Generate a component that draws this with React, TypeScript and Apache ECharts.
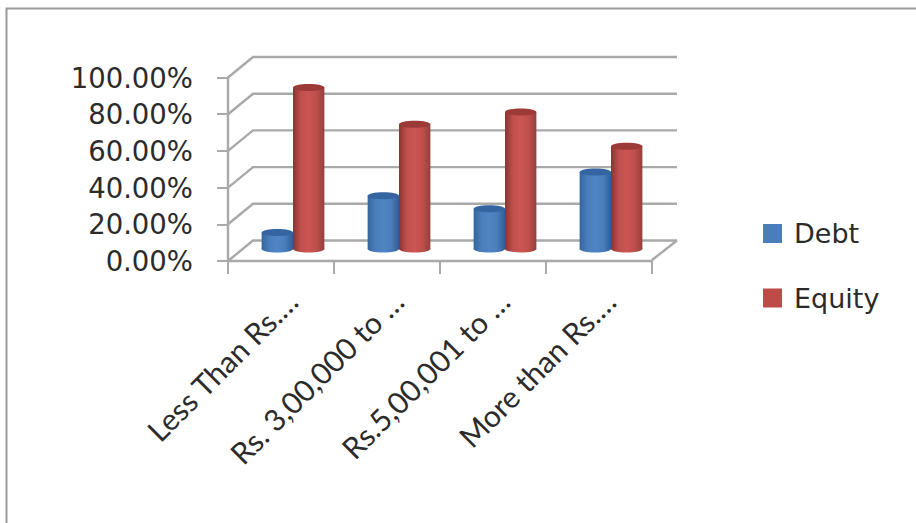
import React, { useEffect, useRef } from "react";
import * as echarts from "echarts";

const categories = ["Less Than Rs.…", "Rs. 3,00,000 to …", "Rs.5,00,001 to …", "More than Rs.…"];
const debtValues = [9, 29, 22, 42];
const equityValues = [88, 68, 74.7, 56];
const yTicks = [0, 20, 40, 60, 80, 100];

const WIDTH = 916;
const HEIGHT = 523;
// Projection of the back wall and of the bar row relative to the front plane.
const WALL_DX = 25;
const WALL_DY = -20.5;
const ROW_DX = 12;
const ROW_DY = -12;
const GRID_COLOR = "#a9a9a9";
const TEXT_COLOR = "#2b2b2b";

const hGradient = (stops: string[]) => ({
  type: "linear",
  x: 0,
  y: 0,
  x2: 1,
  y2: 0,
  colorStops: stops.map((color, i) => ({ offset: i / (stops.length - 1), color })),
});

const wallLines = (params: any, api: any) => {
  const p = api.coord([0, api.value(1)]);
  const left = params.coordSys.x;
  const right = left + params.coordSys.width;
  const y = p[1];
  const style = { stroke: GRID_COLOR, lineWidth: 2.4, fill: "none" };
  const children: any[] = [
    {
      type: "polyline",
      shape: {
        points: [
          [left, y],
          [left + WALL_DX, y + WALL_DY],
          [right + WALL_DX, y + WALL_DY],
        ],
      },
      style,
    },
  ];
  if (api.value(1) === 0) {
    children.push({
      type: "line",
      shape: { x1: right, y1: y - 1, x2: right + WALL_DX, y2: y + WALL_DY },
      style,
    });
  }
  return { type: "group", children };
};

const cylinder = (side: number, stops: string[], capColor: string) => (params: any, api: any) => {
  const category = api.value(0);
  const top = api.coord([category, api.value(1)]);
  const base = api.coord([category, 0]);
  const bandWidth = api.size([1, 0])[0];
  const rx = bandWidth * 0.148;
  const cx = top[0] + ROW_DX + side * rx;
  const ry = 3.5;
  const yTop = top[1] + ROW_DY;
  const yBase = base[1] + ROW_DY;
  const fill = hGradient(stops);
  return {
    type: "group",
    children: [
      { type: "ellipse", shape: { cx, cy: yBase, rx, ry }, style: { fill } },
      { type: "rect", shape: { x: cx - rx, y: yTop, width: rx * 2, height: yBase - yTop }, style: { fill } },
      { type: "ellipse", shape: { cx, cy: yTop, rx, ry }, style: { fill: capColor } },
    ],
  };
};

const DEBT_STOPS = ["#34659f", "#4a7ebb", "#4f85c5", "#4a7dba", "#2f5d96"];
const EQUITY_STOPS = ["#8a3331", "#c0504d", "#cb5552", "#bf4f4c", "#93403d"];

export default function App() {
  const ref = useRef<HTMLDivElement>(null);

  useEffect(() => {
    const chart = echarts.init(ref.current!, undefined, { renderer: "svg" });
    chart.setOption({
      animation: false,
      backgroundColor: "#ffffff",
      grid: { left: 228, right: WIDTH - 652, top: 77.5, bottom: HEIGHT - 261 },
      graphic: [
        {
          type: "rect",
          silent: true,
          z: -1,
          shape: { x: 6.5, y: 8.5, width: 940, height: 540 },
          style: { fill: "none", stroke: "#9a9a9a", lineWidth: 2 },
        },
      ],
      legend: {
        data: [
          { name: "Debt", itemStyle: { color: "#4a7ebb" } },
          { name: "Equity", itemStyle: { color: "#be4b48" } },
        ],
        orient: "vertical",
        left: 758,
        top: 213.5,
        itemWidth: 19,
        itemHeight: 19,
        itemGap: 34.5,
        icon: "rect",
        textStyle: {
          fontFamily: "DejaVu Sans",
          fontSize: 27,
          lineHeight: 30,
          color: TEXT_COLOR,
          padding: [0, 0, 0, 7],
        },
      },
      xAxis: {
        type: "category",
        data: categories,
        axisLine: { show: true, lineStyle: { color: GRID_COLOR, width: 2.4 } },
        axisTick: { show: true, alignWithLabel: false, length: 13, lineStyle: { color: GRID_COLOR, width: 2 } },
        axisLabel: {
          rotate: 45,
          interval: 0,
          margin: 24,
          verticalAlign: "top",
          fontFamily: "Lato",
          fontSize: 30,
          color: TEXT_COLOR,
        },
      },
      yAxis: {
        type: "value",
        min: 0,
        max: 100,
        interval: 20,
        axisLine: { show: true, lineStyle: { color: GRID_COLOR, width: 2.4 } },
        axisTick: { show: true, length: 11, lineStyle: { color: GRID_COLOR, width: 2 } },
        splitLine: { show: false },
        axisLabel: {
          margin: 35,
          fontFamily: "DejaVu Sans",
          fontSize: 27.5,
          color: TEXT_COLOR,
          formatter: (v: number) => `${v.toFixed(2)}%`,
        },
      },
      series: [
        {
          name: "Walls",
          type: "custom",
          clip: false,
          silent: true,
          z: 1,
          renderItem: wallLines,
          data: yTicks.map((v) => [0, v]),
          encode: { x: 0, y: 1 },
        },
        {
          name: "Debt",
          type: "custom",
          clip: false,
          z: 2,
          itemStyle: { color: "#4a7ebb" },
          renderItem: cylinder(-1, DEBT_STOPS, "#3465a0"),
          data: debtValues.map((v, i) => [i, v]),
          encode: { x: 0, y: 1 },
        },
        {
          name: "Equity",
          type: "custom",
          clip: false,
          z: 3,
          itemStyle: { color: "#be4b48" },
          renderItem: cylinder(1, EQUITY_STOPS, "#9c3a38"),
          data: equityValues.map((v, i) => [i, v]),
          encode: { x: 0, y: 1 },
        },
      ],
    });
    return () => chart.dispose();
  }, []);

  return (
    <div
      ref={ref}
      style={{ position: "fixed", left: 0, top: 0, width: WIDTH, height: HEIGHT, overflow: "hidden" }}
    />
  );
}
